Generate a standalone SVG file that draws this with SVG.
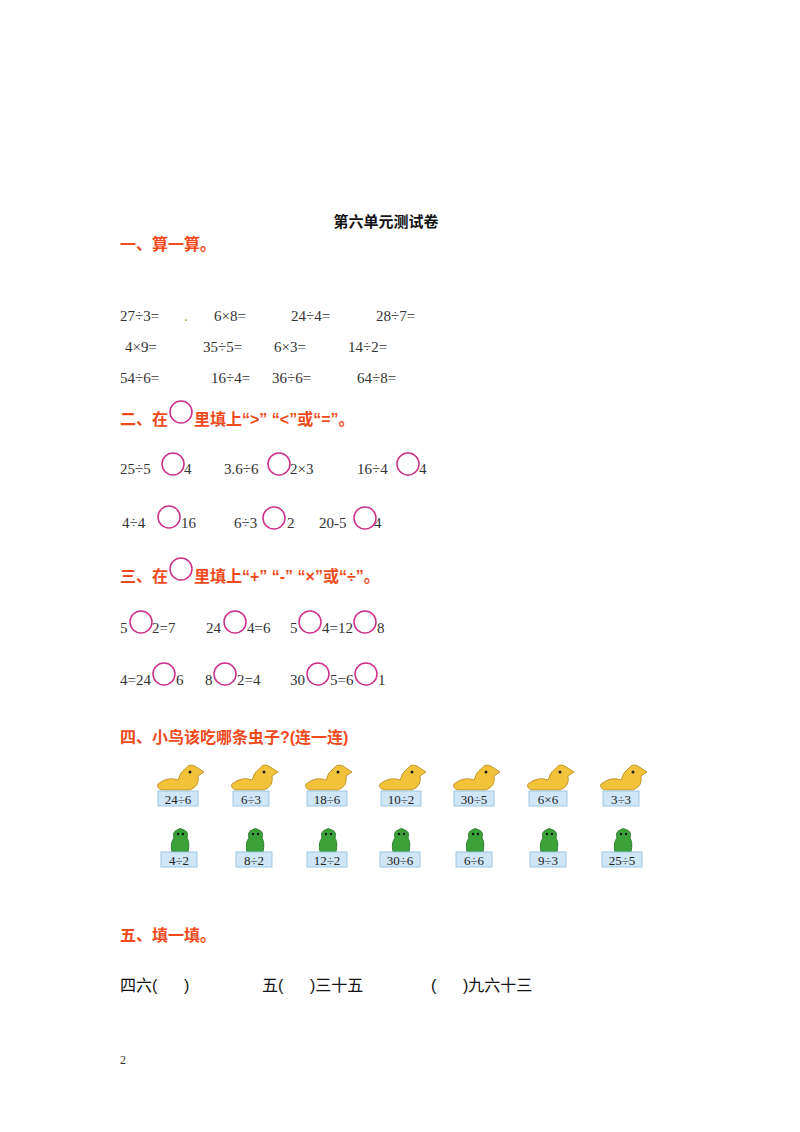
<svg xmlns="http://www.w3.org/2000/svg" width="800" height="1132" viewBox="0 0 800 1132">
<style>
.h{font-family:"Liberation Sans","Noto Sans CJK SC",sans-serif;font-size:16px;fill:#f04a1c;font-weight:bold}
.t{font-family:"Liberation Serif","Noto Sans CJK SC",serif;font-size:15px;fill:#333}
.b{font-family:"Liberation Serif","Noto Sans CJK SC",serif;font-size:13px;fill:#222}
.c{fill:none;stroke:#cc2f8a;stroke-width:1.5}
.lb{fill:#cfe6f7;stroke:#9cc7e6;stroke-width:1}
.k{font-family:"Liberation Sans","Noto Sans CJK SC",sans-serif;font-size:16px;fill:#111}
</style>
<defs>
<g id="bird">
<path d="M-22,2 Q-12,-6 -2,-2 Q0,-10 6,-14 Q10,-20 18,-14 L24,-10 L18,-6 Q20,4 10,8 L-18,8 Q-24,6 -22,2Z" fill="#f2c23a" stroke="#b8861a" stroke-width="0.8"/>
<circle cx="10" cy="-10" r="1.5" fill="#222"/>
</g>
<g id="bug">
<path d="M-8,10 Q-10,0 -6,-4 Q-8,-10 -3,-12 Q0,-15 4,-12 Q9,-10 7,-4 Q10,0 8,10Z" fill="#3aa236" stroke="#1e6e1e" stroke-width="0.8"/>
<circle cx="-2" cy="-8" r="1.2" fill="#111"/><circle cx="3" cy="-8" r="1.2" fill="#111"/>
</g>
</defs>
<text x="386" y="227" text-anchor="middle" class="t" style="font-family:'Noto Sans CJK SC',sans-serif;font-weight:bold;fill:#111">第六单元测试卷</text>
<text x="120" y="250" class="h">一、算一算。</text>
<g class="t">
<text x="120" y="321">27÷3=</text><text x="184" y="321" style="fill:#9a3">.</text><text x="214" y="321">6×8=</text><text x="291" y="321">24÷4=</text><text x="376" y="321">28÷7=</text>
<text x="125" y="352">4×9=</text><text x="203" y="352">35÷5=</text><text x="274" y="352">6×3=</text><text x="348" y="352">14÷2=</text>
<text x="120" y="383">54÷6=</text><text x="211" y="383">16÷4=</text><text x="272" y="383">36÷6=</text><text x="357" y="383">64÷8=</text>
</g>
<text x="120" y="425" class="h">二、在</text><circle class="c" cx="181" cy="412" r="11"/>
<text x="194" y="425" class="h">里填上“&gt;” “&lt;”或“=”。</text>
<g class="t">
<text x="120" y="474">25÷5</text><text x="184" y="474">4</text>
<text x="224" y="474">3.6÷6</text><text x="290" y="474">2×3</text>
<text x="357" y="474">16÷4</text><text x="419" y="474">4</text>
<text x="122" y="528">4÷4</text><text x="181" y="528">16</text>
<text x="234" y="528">6÷3</text><text x="287" y="528">2</text>
<text x="319" y="528">20-5</text><text x="374" y="528">4</text>
</g>
<g class="c">
<circle cx="173" cy="464" r="11"/><circle cx="279" cy="464" r="11"/><circle cx="408" cy="464" r="11"/>
<circle cx="169" cy="517" r="11"/><circle cx="274" cy="518" r="11"/><circle cx="365" cy="518" r="11"/>
</g>
<text x="120" y="582" class="h">三、在</text><circle class="c" cx="181" cy="569" r="11"/>
<text x="194" y="582" class="h">里填上“+” “-” “×”或“÷”。</text>
<g class="t">
<text x="120" y="633">5</text><text x="152" y="633">2=7</text>
<text x="206" y="633">24</text><text x="247" y="633">4=6</text>
<text x="290" y="633">5</text><text x="322" y="633">4=12</text><text x="377" y="633">8</text>
<text x="120" y="685">4=24</text><text x="176" y="685">6</text>
<text x="205" y="685">8</text><text x="237" y="685">2=4</text>
<text x="290" y="685">30</text><text x="330" y="685">5=6</text><text x="378" y="685">1</text>
</g>
<g class="c">
<circle cx="141" cy="622" r="11"/><circle cx="235" cy="622" r="11"/><circle cx="310" cy="622" r="11"/><circle cx="365" cy="622" r="11"/>
<circle cx="164" cy="674" r="11"/><circle cx="225" cy="674" r="11"/><circle cx="318" cy="674" r="11"/><circle cx="366" cy="674" r="11"/>
</g>
<text x="120" y="743" class="h">四、小鸟该吃哪条虫子?(连一连)</text>
<g id="birds">
<use href="#bird" x="180" y="782"/><rect class="lb" x="158" y="791" width="40" height="15"/><text class="b" x="178" y="804" text-anchor="middle">24÷6</text>
<use href="#bird" x="254" y="782"/><rect class="lb" x="233" y="791" width="36" height="15"/><text class="b" x="251" y="804" text-anchor="middle">6÷3</text>
<use href="#bird" x="328" y="782"/><rect class="lb" x="307" y="791" width="40" height="15"/><text class="b" x="327" y="804" text-anchor="middle">18÷6</text>
<use href="#bird" x="402" y="782"/><rect class="lb" x="381" y="791" width="40" height="15"/><text class="b" x="401" y="804" text-anchor="middle">10÷2</text>
<use href="#bird" x="476" y="782"/><rect class="lb" x="454" y="791" width="40" height="15"/><text class="b" x="474" y="804" text-anchor="middle">30÷5</text>
<use href="#bird" x="550" y="782"/><rect class="lb" x="529" y="791" width="38" height="15"/><text class="b" x="548" y="804" text-anchor="middle">6×6</text>
<use href="#bird" x="623" y="782"/><rect class="lb" x="603" y="791" width="36" height="15"/><text class="b" x="621" y="804" text-anchor="middle">3÷3</text>
</g>
<g id="bugs">
<use href="#bug" x="180" y="842"/><rect class="lb" x="161" y="852" width="36" height="15"/><text class="b" x="179" y="865" text-anchor="middle">4÷2</text>
<use href="#bug" x="255" y="842"/><rect class="lb" x="236" y="852" width="36" height="15"/><text class="b" x="254" y="865" text-anchor="middle">8÷2</text>
<use href="#bug" x="328" y="842"/><rect class="lb" x="307" y="852" width="40" height="15"/><text class="b" x="327" y="865" text-anchor="middle">12÷2</text>
<use href="#bug" x="401" y="842"/><rect class="lb" x="380" y="852" width="40" height="15"/><text class="b" x="400" y="865" text-anchor="middle">30÷6</text>
<use href="#bug" x="475" y="842"/><rect class="lb" x="456" y="852" width="36" height="15"/><text class="b" x="474" y="865" text-anchor="middle">6÷6</text>
<use href="#bug" x="549" y="842"/><rect class="lb" x="530" y="852" width="36" height="15"/><text class="b" x="548" y="865" text-anchor="middle">9÷3</text>
<use href="#bug" x="623" y="842"/><rect class="lb" x="602" y="852" width="40" height="15"/><text class="b" x="622" y="865" text-anchor="middle">25÷5</text>
</g>
<text x="120" y="941" class="h">五、填一填。</text>
<text x="120" y="991" class="k" xml:space="preserve">四六(      )</text>
<text x="262" y="991" class="k" xml:space="preserve">五(      )三十五</text>
<text x="431" y="991" class="k" xml:space="preserve">(      )九六十三</text>
<text x="120" y="1064" class="t" style="font-size:12px">2</text>
</svg>
